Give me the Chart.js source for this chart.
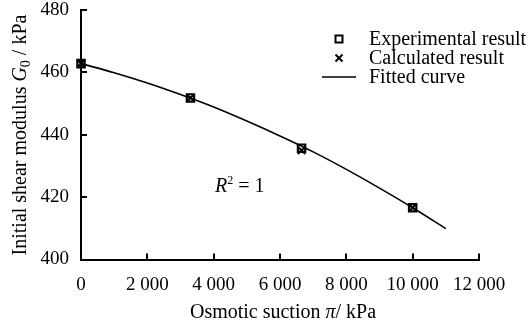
<!DOCTYPE html>
<html>
<head>
<meta charset="utf-8">
<script src="https://cdn.jsdelivr.net/npm/chart.js@4.4.1/dist/chart.umd.min.js"></script>
<style>
  html, body { margin: 0; padding: 0; background: #fff; }
  #wrap { width: 528px; height: 336px; }
</style>
</head>
<body>
<div id="wrap"><canvas id="c" width="528" height="336"></canvas></div>
<script>
// Osmotic suction (kPa) at the test points
const suction = [0, 3300, 6650, 10000];
// Initial shear modulus G0 (kPa)
const experimental = [462.8, 451.8, 435.7, 416.6];
const calculated = [462.8, 451.8, 435.0, 416.6];
// Fitted curve samples
const fitSuction = [0, 1000, 2000, 3000, 4000, 5000, 6000, 7000, 8000, 9000, 10000, 11000];
const fitModulus = [462.8, 459.9, 456.6, 452.9, 448.9, 444.4, 439.6, 434.5, 428.9, 422.9, 416.6, 409.9];
// Axis tick labels
const xTickLabels = ['0', '2 000', '4 000', '6 000', '8 000', '10 000', '12 000'];
const yTickLabels = ['400', '420', '440', '460', '480'];

const FAMILY = '"Liberation Serif", "Times New Roman", serif';
const FONT_SIZE = 19;
const TEXT_SIZE = 20;

const pts = (xs, ys) => xs.map((x, i) => ({ x: x, y: ys[i] }));

function drawMarker(ctx, style, x, y) {
  ctx.save();
  ctx.strokeStyle = '#000';
  ctx.lineWidth = 2;
  ctx.beginPath();
  if (style === 'rect') {
    ctx.rect(x - 3.5, y - 3.5, 7, 7);
  } else if (style === 'cross') {
    ctx.moveTo(x - 3.5, y - 3.5); ctx.lineTo(x + 3.5, y + 3.5);
    ctx.moveTo(x + 3.5, y - 3.5); ctx.lineTo(x - 3.5, y + 3.5);
  } else {
    ctx.lineWidth = 1.6;
    ctx.moveTo(x - 17, y); ctx.lineTo(x + 17, y);
  }
  ctx.stroke();
  ctx.restore();
}

// draws a run of text pieces [{t, style, size, dy}] starting at x
function drawRuns(ctx, runs, x, y) {
  let cx = x;
  runs.forEach(r => {
    ctx.font = (r.style || '') + ' ' + (r.size || TEXT_SIZE) + 'px ' + FAMILY;
    ctx.fillText(r.t, cx, y + (r.dy || 0));
    cx += ctx.measureText(r.t).width;
  });
  return cx - x;
}
function measureRuns(ctx, runs) {
  let w = 0;
  runs.forEach(r => {
    ctx.font = (r.style || '') + ' ' + (r.size || TEXT_SIZE) + 'px ' + FAMILY;
    w += ctx.measureText(r.t).width;
  });
  return w;
}

const decorations = {
  id: 'decorations',
  afterDraw(chart) {
    const ctx = chart.ctx;
    const xs = chart.scales.x, ys = chart.scales.y;
    const area = chart.chartArea;
    ctx.save();
    ctx.strokeStyle = '#000';
    ctx.fillStyle = '#000';
    ctx.lineWidth = 2;

    // inward tick marks
    xs.ticks.forEach(t => {
      if (t.value === xs.min) return;
      const px = Math.round(xs.getPixelForValue(t.value));
      ctx.beginPath();
      ctx.moveTo(px, area.bottom);
      ctx.lineTo(px, area.bottom - 6);
      ctx.stroke();
    });
    ys.ticks.forEach(t => {
      if (t.value === ys.min) return;
      const py = Math.round(ys.getPixelForValue(t.value));
      ctx.beginPath();
      ctx.moveTo(area.left, py);
      ctx.lineTo(area.left + 6, py);
      ctx.stroke();
    });

    ctx.textBaseline = 'alphabetic';
    ctx.textAlign = 'left';

    // x axis title
    const xRuns = [{ t: 'Osmotic suction ' }, { t: 'π', style: 'italic' }, { t: '/ kPa' }];
    const xw = measureRuns(ctx, xRuns);
    drawRuns(ctx, xRuns, 283 - xw / 2, 318);

    // y axis title
    const yRuns = [{ t: 'Initial shear modulus ' }, { t: 'G', style: 'italic' },
                   { t: '0', size: 14, dy: 4 }, { t: ' / kPa' }];
    const yw = measureRuns(ctx, yRuns);
    ctx.save();
    ctx.translate(26, 135);
    ctx.rotate(-Math.PI / 2);
    drawRuns(ctx, yRuns, -yw / 2, 0);
    ctx.restore();

    // coefficient of determination
    const rx = xs.getPixelForValue(4040), ry = ys.getPixelForValue(421.8);
    drawRuns(ctx, [{ t: 'R', style: 'italic' }, { t: '2', size: 12, dy: -8 }, { t: ' = 1' }], rx, ry);

    // legend
    const legendItems = [
      { style: 'rect', label: chart.data.datasets[1].label, y: 39 },
      { style: 'cross', label: chart.data.datasets[2].label, y: 58 },
      { style: 'line', label: chart.data.datasets[0].label, y: 77 }
    ];
    legendItems.forEach(it => {
      drawMarker(ctx, it.style, 339, it.y);
      ctx.font = TEXT_SIZE + 'px ' + FAMILY;
      ctx.fillText(it.label, 369, it.y + 6);
    });
    ctx.restore();
  }
};

new Chart(document.getElementById('c'), {
  type: 'scatter',
  data: {
    datasets: [
      {
        label: 'Fitted curve',
        data: pts(fitSuction, fitModulus),
        showLine: true,
        borderColor: '#000',
        borderWidth: 1.6,
        pointRadius: 0,
        cubicInterpolationMode: 'monotone',
        clip: false,
        order: 3
      },
      {
        label: 'Experimental result',
        data: pts(suction, experimental),
        pointStyle: 'rect',
        pointRadius: 5.2,
        borderColor: '#000',
        backgroundColor: 'rgba(0,0,0,0)',
        borderWidth: 2.2,
        clip: false,
        order: 2
      },
      {
        label: 'Calculated result',
        data: pts(suction, calculated),
        pointStyle: 'crossRot',
        pointRadius: 5.2,
        borderColor: '#000',
        borderWidth: 2,
        clip: false,
        order: 1
      }
    ]
  },
  options: {
    responsive: false,
    animation: false,
    events: [],
    layout: { padding: { left: 0, right: 49, top: 10, bottom: 0 } },
    plugins: { legend: { display: false }, tooltip: { enabled: false } },
    scales: {
      x: {
        type: 'linear',
        min: 0, max: 12000,
        ticks: {
          stepSize: 2000,
          maxRotation: 0,
          autoSkip: false,
          padding: 14,
          color: '#000',
          font: { family: FAMILY, size: FONT_SIZE },
          callback: (v, i) => xTickLabels[i]
        },
        grid: { drawOnChartArea: false, drawTicks: false },
        border: { color: '#000', width: 2 },
        afterFit(s) { s.height = 76.5; s.paddingLeft = 0; s.paddingRight = 0; }
      },
      y: {
        min: 400, max: 480,
        ticks: {
          stepSize: 20,
          padding: 12,
          color: '#000',
          font: { family: FAMILY, size: FONT_SIZE },
          callback: (v, i) => yTickLabels[i]
        },
        grid: { drawOnChartArea: false, drawTicks: false },
        border: { color: '#000', width: 2 },
        afterFit(s) { s.width = 81; s.paddingTop = 0; s.paddingBottom = 0; }
      }
    }
  },
  plugins: [decorations]
});
</script>
</body>
</html>
